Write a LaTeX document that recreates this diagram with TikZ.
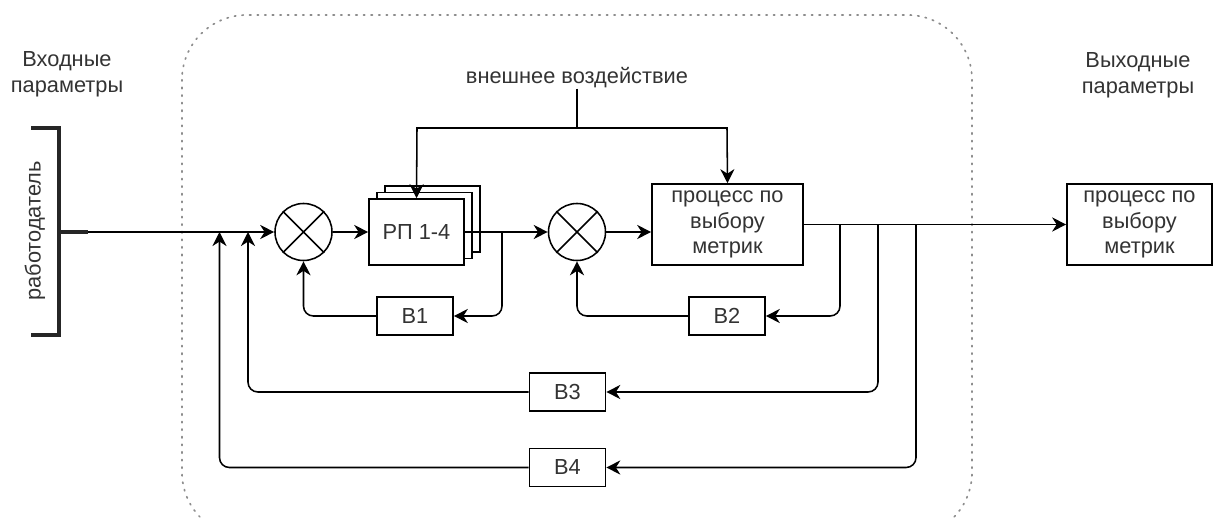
\documentclass[tikz,border=0pt]{standalone}
\usepackage{fontspec}
\setmainfont{Liberation Sans}
\usetikzlibrary{arrows.meta,calc}
\begin{document}
\begin{tikzpicture}[x=0.025cm,y=-0.025cm,
  every node/.style={font=\fontsize{15.5}{18.4}\selectfont, text=black!80},
  ln/.style={line width=1.1pt, draw=black},
  arr/.style={ln, -{Stealth[length=10pt,width=10pt,inset=3.2pt]}},
  bx/.style={draw=black, line width=1.1pt, fill=white, inner sep=0pt, align=center},
  fbbox/.style={bx, minimum width=1.9cm, minimum height=0.95cm},
  sumc/.style={circle, draw=black, line width=1.1pt, fill=white, inner sep=0pt, minimum size=1.425cm},
  lbl/.style={align=center, inner sep=0pt},
  rc/.style={rounded corners=7pt}
]
\path[use as bounding box] (0,0) rectangle (1213,519);
\clip (0,0) rectangle (1213,519);

% dotted system boundary
\draw[black!45, line width=1.2pt, dash pattern=on 1pt off 4.4pt, line cap=round, rounded corners=46pt]
  (182,15) rectangle (972,537);

% labels
\node[lbl] (inlbl) at (67,74) {Входные\\параметры};
\node[lbl] (outlbl) at (1138,75) {Выходные\\параметры};
\node[lbl] (ext) at (577,78) {внешнее воздействие};

% employer bracket
\node[lbl, rotate=90] (emp) at (35,231) {работодатель};
\coordinate (brt) at (31,128);
\coordinate (brb) at (31,335);
\coordinate (brk) at (59,232);
\coordinate (stub) at (88,232);
\draw[black!85, line width=2.2pt] (brt) -- (59,128) -- (59,335) -- (brb);

% blocks
\node[sumc] (sum1) at (303.5,232) {};
\draw[ln] (sum1.45) -- (sum1.225) (sum1.135) -- (sum1.315);
\node[bx, minimum width=2.375cm, minimum height=1.65cm] (rp3) at (432.5,219) {};
\node[bx, minimum width=2.375cm, minimum height=1.65cm] (rp2) at (424.5,225.5) {};
\node[bx, minimum width=2.375cm, minimum height=1.65cm] (rp) at (416.5,232) {РП 1-4};
\node[sumc] (sum2) at (577,232) {};
\draw[ln] (sum2.45) -- (sum2.225) (sum2.135) -- (sum2.315);
\node[bx, minimum width=3.775cm, minimum height=2.025cm] (proc) at (727.5,224.5) {процесс по\\выбору\\метрик};
\node[bx, minimum width=3.625cm, minimum height=2.025cm] (out) at (1139.5,224.5) {процесс по\\выбору\\метрик};
\node[fbbox] (b1) at (415,316) {B1};
\node[fbbox] (b2) at (727,316) {B2};
\node[fbbox] (b3) at (567.5,392) {B3};
\node[fbbox] (b4) at (567.5,467.5) {B4};

% main chain
\draw[line width=2.2pt, black!85] (brk) -- (stub);
\draw[arr] (stub) -- (sum1.west);
\draw[arr] (sum1.east) -- (rp.west);
\draw[arr] (rp.east) -- (sum2.west);
\draw[arr] (sum2.east) -- (sum2.east -| proc.west);
\draw[arr] (proc.east) -- (out.west);

% external influence
\coordinate (split) at (577,128);
\draw[ln] (ext.south) -- (split);
\draw[arr] (split) -- (417,128) -- (rp.north);
\draw[arr] (split) -- (727,128) -- (proc.north);

% feedback taps
\coordinate (t1) at (502,232);
\coordinate (t2) at (840,224.5);
\coordinate (t3) at (878,224.5);
\coordinate (t4) at (916,224.5);
\coordinate (j3) at (248,232);
\coordinate (j4) at (219.5,232);

\draw[arr, rc] (t1) -- (t1 |- b1) -- (b1.east);
\draw[arr, rc] (b1.west) -- (sum1.south |- b1) -- (sum1.south);
\draw[arr, rc] (t2) -- (t2 |- b2) -- (b2.east);
\draw[arr, rc] (b2.west) -- (sum2.south |- b2) -- (sum2.south);
\draw[arr, rc] (t3) -- (t3 |- b3) -- (b3.east);
\draw[arr, rc] (b3.west) -- (j3 |- b3) -- (j3);
\draw[arr, rc] (t4) -- (t4 |- b4) -- (b4.east);
\draw[arr, rc] (b4.west) -- (j4 |- b4) -- (j4);
\end{tikzpicture}
\end{document}
